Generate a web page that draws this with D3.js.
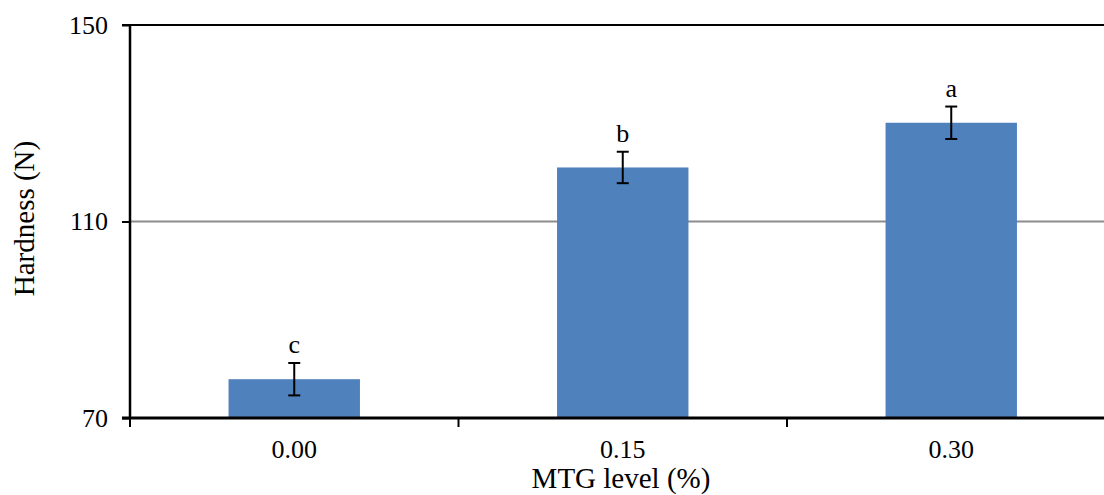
<!DOCTYPE html>
<html>
<head>
<meta charset="utf-8">
<script src="https://cdn.jsdelivr.net/npm/d3@7"></script>
<style>
  html, body { margin: 0; padding: 0; background: #fff; }
  svg { display: block; }
  text { font-family: "Liberation Serif", "Times New Roman", serif; fill: #000; }
</style>
</head>
<body>
<svg id="chart" width="1104" height="495"></svg>
<script>
// MTG level vs hardness, mean ± error with significance letters
const categories = ["0.00", "0.15", "0.30"];
const hardness = [77.9, 121.0, 130.1];
const errors = [3.3, 3.2, 3.3];
const letters = ["c", "b", "a"];
const yTicks = [70, 110, 150];

const svg = d3.select("#chart");
const plotLeft = 130, plotTop = 25, plotBottom = 418;
const step = 328.5;
const plotRight = plotLeft + step * categories.length;
const tickFont = 26, titleFont = 29;

const x = d3.scaleBand()
  .domain(categories)
  .range([plotLeft, plotRight])
  .paddingInner(0.6)
  .paddingOuter(0.3);

const y = d3.scaleLinear().domain([70, 150]).range([plotBottom, plotTop]);

// gridline at 110
svg.append("line")
  .attr("x1", plotLeft).attr("x2", plotRight)
  .attr("y1", y(110)).attr("y2", y(110))
  .attr("stroke", "#8c8c8c").attr("stroke-width", 2);

// top border at 150
svg.append("line")
  .attr("x1", plotLeft - 8).attr("x2", plotRight)
  .attr("y1", y(150)).attr("y2", y(150))
  .attr("stroke", "#000").attr("stroke-width", 2);

// bars
svg.selectAll("rect.bar")
  .data(categories)
  .join("rect")
  .attr("class", "bar")
  .attr("x", d => x(d))
  .attr("width", x.bandwidth())
  .attr("y", (d, i) => y(hardness[i]))
  .attr("height", (d, i) => y(70) - y(hardness[i]))
  .attr("fill", "#4f81bd");

// error bars
const eb = svg.append("g").attr("stroke", "#000").attr("stroke-width", 2);
categories.forEach((c, i) => {
  const cx = x(c) + x.bandwidth() / 2;
  const yt = y(hardness[i] + errors[i]);
  const yb = y(hardness[i] - errors[i]);
  eb.append("line").attr("x1", cx).attr("x2", cx).attr("y1", yt).attr("y2", yb);
  eb.append("line").attr("x1", cx - 6).attr("x2", cx + 6).attr("y1", yt).attr("y2", yt);
  eb.append("line").attr("x1", cx - 6).attr("x2", cx + 6).attr("y1", yb).attr("y2", yb);
});

// significance letters
svg.selectAll("text.letter")
  .data(categories)
  .join("text")
  .attr("class", "letter")
  .attr("x", d => x(d) + x.bandwidth() / 2)
  .attr("y", (d, i) => y(hardness[i] + errors[i]) - 10)
  .attr("text-anchor", "middle")
  .attr("font-size", tickFont)
  .text((d, i) => letters[i]);

// y axis
const yAxis = svg.append("g")
  .attr("transform", `translate(${plotLeft},0)`)
  .call(d3.axisLeft(y).tickValues(yTicks).tickSize(8).tickPadding(14));
yAxis.select(".domain").attr("stroke", "#000").attr("stroke-width", 2.5)
  .attr("d", `M0,${plotTop}V${plotBottom}`);
yAxis.selectAll(".tick line").attr("stroke", "#000").attr("stroke-width", 2);
yAxis.selectAll(".tick text")
  .attr("font-size", tickFont)
  .attr("font-family", "Liberation Serif, Times New Roman, serif")
  .attr("dy", "0.32em");

// x axis
const xAxisG = svg.append("g");
xAxisG.append("line")
  .attr("x1", plotLeft - 8).attr("x2", plotRight)
  .attr("y1", plotBottom).attr("y2", plotBottom)
  .attr("stroke", "#000").attr("stroke-width", 3);
d3.range(categories.length + 1).forEach(i => {
  xAxisG.append("line")
    .attr("x1", plotLeft + i * step).attr("x2", plotLeft + i * step)
    .attr("y1", plotBottom).attr("y2", plotBottom + 9)
    .attr("stroke", "#000").attr("stroke-width", 2);
});
xAxisG.selectAll("text")
  .data(categories)
  .join("text")
  .attr("x", d => x(d) + x.bandwidth() / 2)
  .attr("y", 458)
  .attr("text-anchor", "middle")
  .attr("font-size", tickFont)
  .text(d => d);

// axis titles
svg.append("text")
  .attr("x", 621).attr("y", 488)
  .attr("text-anchor", "middle")
  .attr("font-size", titleFont)
  .text("MTG level (%)");

svg.append("text")
  .attr("transform", `translate(34,218.5) rotate(-90)`)
  .attr("text-anchor", "middle")
  .attr("font-size", titleFont)
  .text("Hardness (N)");
</script>
</body>
</html>
